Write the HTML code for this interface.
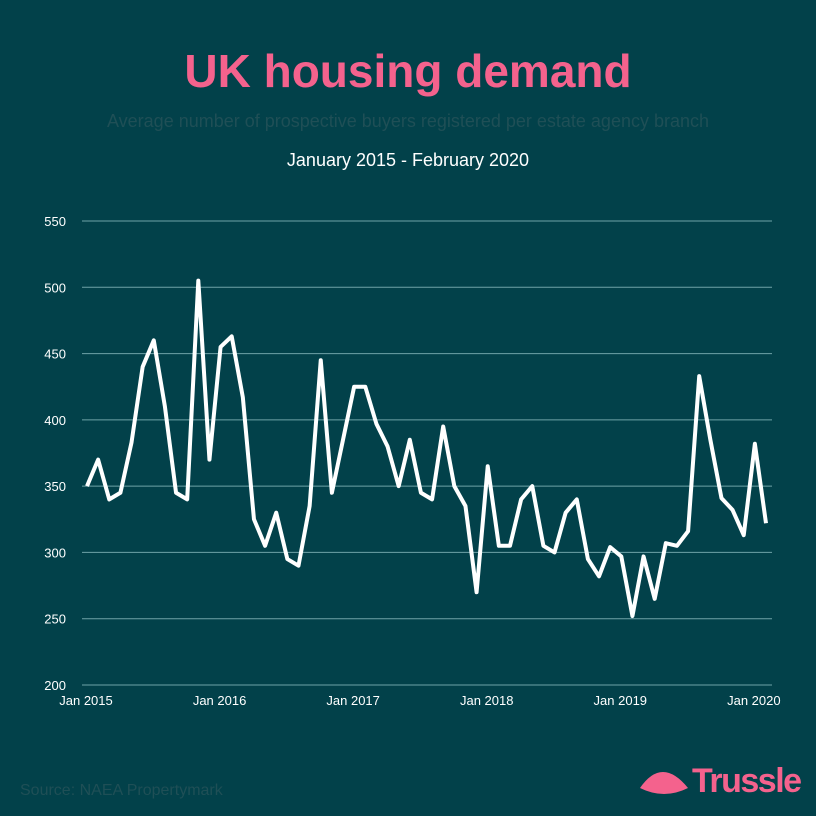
<!DOCTYPE html>
<html><head><meta charset="utf-8"><style>
body{margin:0;background:#02414a;}
#wrap{position:relative;width:816px;height:816px;background:#02414a;font-family:"Liberation Sans",sans-serif;overflow:hidden}
.t{position:absolute;left:0;width:816px;text-align:center}
</style></head><body>
<div id="wrap">
<div class="t" style="top:44px;font-size:46px;font-weight:bold;color:#f4628d">UK housing demand</div>
<div class="t" style="top:111px;font-size:18px;color:#1f4f56">Average number of prospective buyers registered per estate agency branch</div>
<div class="t" style="top:150px;font-size:18px;color:#fff">January 2015 - February 2020</div>
<svg id="chart" width="816" height="816" style="position:absolute;left:0;top:0"></svg>
<div style="position:absolute;left:20px;top:782px;font-size:16px;color:#1f4f56">Source: NAEA Propertymark</div>
<div style="position:absolute;left:638px;top:762px;height:40px">
<svg width="56" height="40" style="position:absolute;left:0;top:0"><path d="M2 26 Q24 -6 50 26 Q26 38 2 26Z" fill="#f4628d"/></svg>
<span style="position:absolute;left:54px;top:0px;font-size:34px;font-weight:bold;color:#f4628d;letter-spacing:-1.5px">Trussle</span>
</div>
</div>
<script>
const yTicks=[200,250,300,350,400,450,500,550];
const xLabels=["Jan 2015","Jan 2016","Jan 2017","Jan 2018","Jan 2019","Jan 2020"];
const values=[350,370,340,345,383,440,460,410,345,340,505,370,455,463,417,325,305,330,295,290,335,445,345,385,425,425,397,380,350,385,345,340,395,350,335,270,365,305,305,340,350,305,300,330,340,295,282,304,297,252,297,265,307,305,316,433,385,341,332,313,382,322];
const NS="http://www.w3.org/2000/svg";
const svg=document.getElementById('chart');
const x=i=>87+i*(766-87)/61;
const y=v=>685-(v-200)*(685-221)/350;
function mk(t,a){const e=document.createElementNS(NS,t);for(const k in a)e.setAttribute(k,a[k]);svg.appendChild(e);return e;}
yTicks.forEach(v=>{
 const l=mk('line',{x1:82,x2:772,y1:y(v),y2:y(v),stroke:'#6fa3a8','stroke-width':1});
 
 
 const t=mk('text',{x:66,y:y(v)+5,'text-anchor':'end',fill:'#fff','font-size':13,'font-family':'Liberation Sans, sans-serif'});
 t.textContent=v;
 
 
});
xLabels.forEach((s,k)=>{
 const t=mk('text',{x:x(k*12)-1,y:705,'text-anchor':'middle',fill:'#fff','font-size':13,'font-family':'Liberation Sans, sans-serif'});
 t.textContent=s;
 
 
});
const p=mk('polyline',{points:values.map((v,i)=>x(i)+','+y(v)).join(' '),fill:'none',stroke:'#fff','stroke-width':4,'stroke-linejoin':'round'});


</script>
</body></html>
